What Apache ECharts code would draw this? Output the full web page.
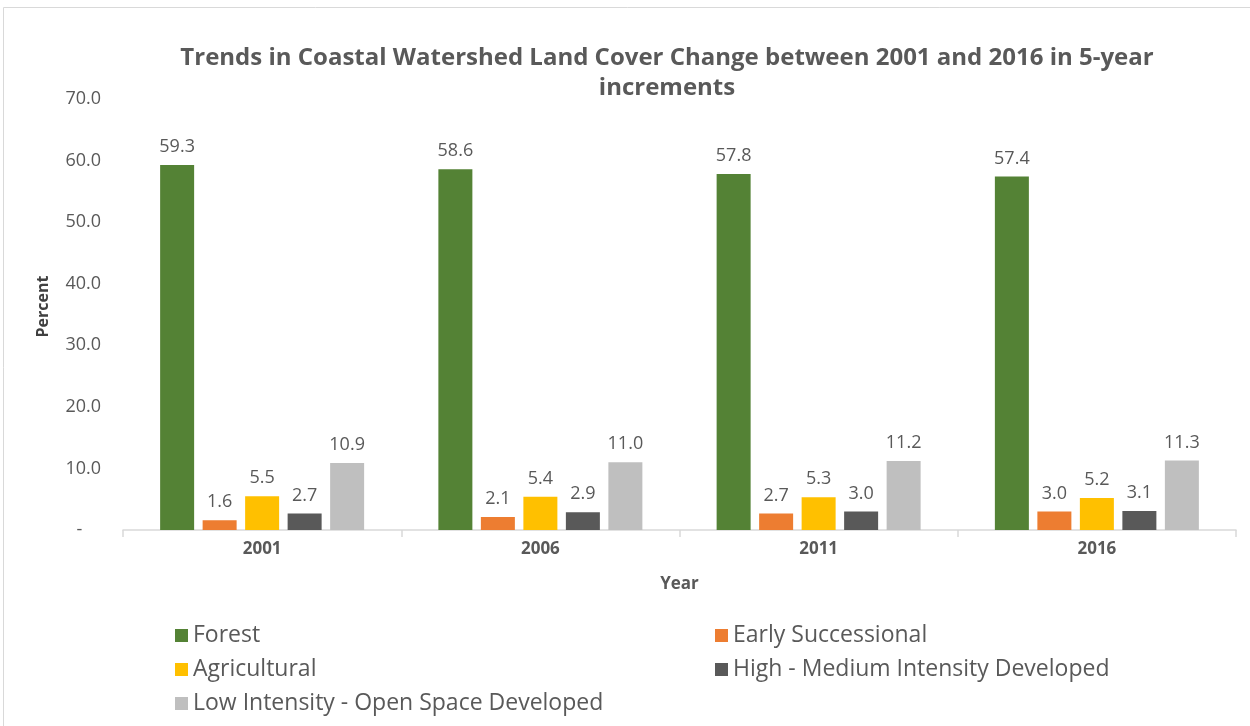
<!DOCTYPE html>
<html><head><meta charset="utf-8">
<script src="https://cdn.jsdelivr.net/npm/echarts@6/dist/echarts.min.js"></script>
<style>html,body{margin:0;padding:0;background:#fff}#c{width:1250px;height:726px}</style>
</head><body><div id="c"></div>
<script>
const years = ['2001','2006','2011','2016'];
const seriesNames = ['Forest','Early Successional','Agricultural','High - Medium Intensity Developed','Low Intensity - Open Space Developed'];
const forest = [59.3, 58.6, 57.8, 57.4];
const earlySuccessional = [1.6, 2.1, 2.7, 3.0];
const agricultural = [5.5, 5.4, 5.3, 5.2];
const highMedDeveloped = [2.7, 2.9, 3.0, 3.1];
const lowOpenDeveloped = [10.9, 11.0, 11.2, 11.3];
const colors = ['#548235','#ED7D31','#FFC000','#595959','#BFBFBF'];
const values = [forest, earlySuccessional, agricultural, highMedDeveloped, lowOpenDeveloped];

const font = 'Open Sans, sans-serif';
const chart = echarts.init(document.getElementById('c'));
chart.setOption({
  animation: false,
  graphic: [{type:'rect', shape:{x:3.5,y:7.5,width:1300,height:800}, style:{fill:'none', stroke:'#d9d9d9', lineWidth:1}, silent:true}],
  title: {
    text: 'Trends in Coastal Watershed Land Cover Change between 2001 and 2016 in 5-year\nincrements',
    left: 662, top: 38, textAlign: 'center',
    textStyle: {fontFamily: font, fontSize: 24, fontWeight: 'bold', color: '#595959', lineHeight: 30}
  },
  grid: {left: 123, right: 14, top: 99, bottom: 196},
  xAxis: {
    type: 'category', data: years,
    name: 'Year', nameLocation: 'middle', nameGap: 46,
    nameTextStyle: {fontFamily: font, fontSize: 17, fontWeight: 'bold', color: '#595959'},
    axisLine: {lineStyle: {color: '#d9d9d9', width: 1.5}},
    axisTick: {show: true, alignWithLabel: false, length: 7, lineStyle: {color: '#d9d9d9', width: 1.5}},
    axisLabel: {fontFamily: font, fontSize: 17, fontWeight: 'bold', color: '#595959', margin: 11}
  },
  yAxis: {
    type: 'value', min: 0, max: 70, interval: 10,
    name: 'Percent', nameLocation: 'middle', nameGap: 72, nameRotate: 90,
    nameTextStyle: {fontFamily: font, fontSize: 16, fontWeight: 'bold', color: '#404040', padding: [0, 0, 0, 16]},
    axisLine: {show: false}, axisTick: {show: false}, splitLine: {show: false},
    axisLabel: {fontFamily: font, fontSize: 18, color: '#595959', margin: 22,
      formatter: v => v === 0 ? '-    ' : v.toFixed(1)}
  },
  legend: [
    {orient: 'vertical', left: 170, top: 619, itemGap: 11, itemWidth: 13, itemHeight: 13, icon: 'rect',
     data: [seriesNames[0], seriesNames[2], seriesNames[4]],
     textStyle: {fontFamily: font, fontSize: 23, color: '#595959'}},
    {orient: 'vertical', left: 710, top: 619, itemGap: 11, itemWidth: 13, itemHeight: 13, icon: 'rect',
     data: [seriesNames[1], seriesNames[3]],
     textStyle: {fontFamily: font, fontSize: 23, color: '#595959'}}
  ],
  series: seriesNames.map((n, i) => ({
    name: n, type: 'bar', data: values[i], barWidth: 34, barGap: '25%',
    itemStyle: {color: colors[i]},
    label: {show: true, position: 'top', distance: 9, fontFamily: font, fontSize: 18, color: '#595959',
      formatter: p => p.value.toFixed(1)}
  }))
});
</script></body></html>
